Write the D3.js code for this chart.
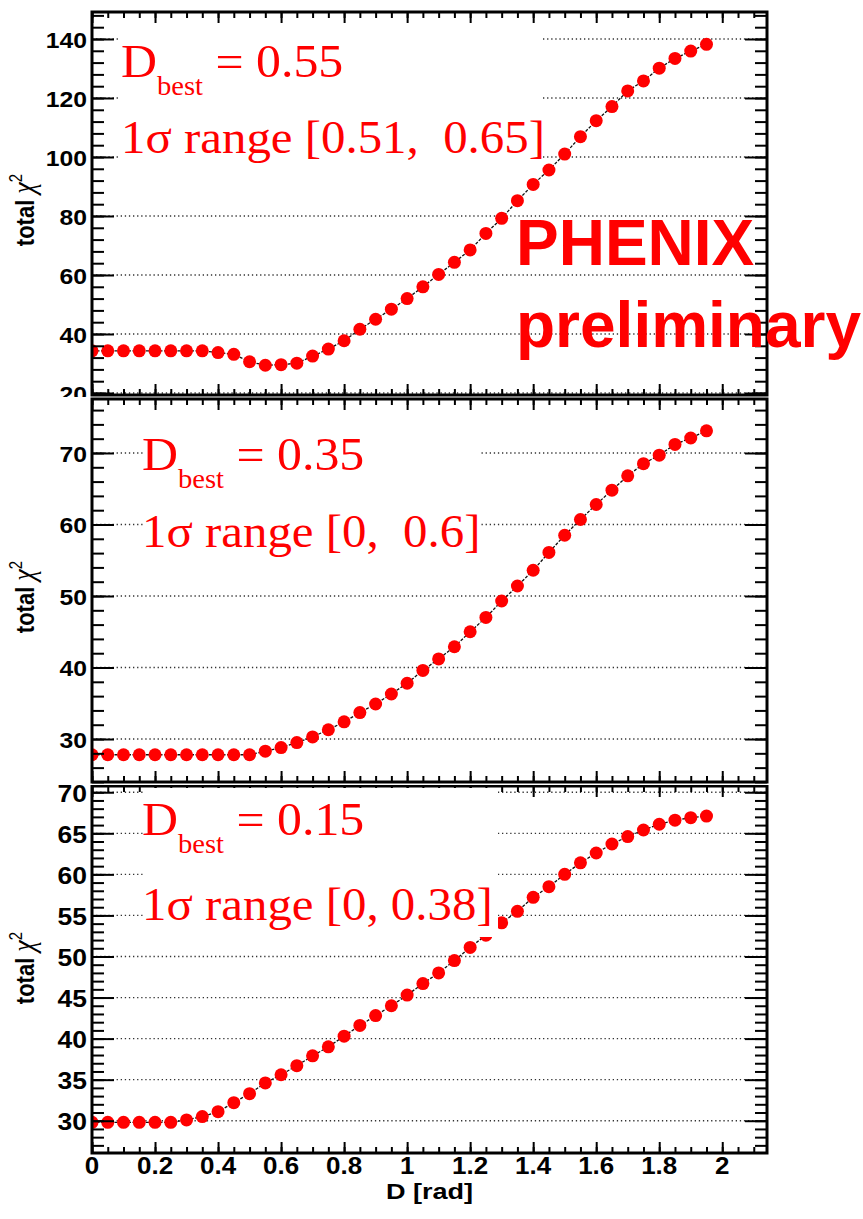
<!DOCTYPE html>
<html>
<head>
<meta charset="utf-8">
<script src="https://cdn.jsdelivr.net/npm/d3@7"></script>
<style>
  html, body { margin: 0; padding: 0; background: #fff; }
  svg { display: block; }
  .tick line { stroke: #000; stroke-width: 2; }
</style>
</head>
<body>
<svg id="chart" width="863" height="1219"></svg>
<script>
// Scan points in D [rad]
const dValues = [0, 0.05, 0.1, 0.15, 0.2, 0.25, 0.3, 0.35, 0.4, 0.45,
                 0.5, 0.55, 0.6, 0.65, 0.7, 0.75, 0.8, 0.85, 0.9, 0.95,
                 1.0, 1.05, 1.1, 1.15, 1.2, 1.25, 1.3, 1.35, 1.4, 1.45,
                 1.5, 1.55, 1.6, 1.65, 1.7, 1.75, 1.8, 1.85, 1.9, 1.95];

// total chi^2 for each scan point, one array per panel
const chi2Top = [34.3, 34.3, 34.3, 34.3, 34.3, 34.3, 34.3, 34.3, 33.7, 33.1,
                 30.6, 29.4, 29.6, 30.1, 32.5, 34.9, 37.7, 41.6, 45.0, 48.4,
                 52.0, 56.0, 60.2, 64.3, 68.5, 74.1, 79.2, 85.2, 90.7, 95.6,
                 101.0, 106.9, 112.3, 117.1, 122.4, 125.8, 130.1, 133.4, 135.9, 138.2];
const chi2Mid = [27.8, 27.8, 27.8, 27.8, 27.8, 27.8, 27.8, 27.8, 27.8, 27.8,
                 27.8, 28.3, 28.8, 29.5, 30.3, 31.3, 32.4, 33.7, 34.9, 36.3,
                 37.8, 39.6, 41.2, 42.9, 45.0, 47.0, 49.3, 51.4, 53.6, 56.1,
                 58.5, 60.7, 62.8, 64.8, 66.8, 68.5, 69.7, 71.2, 72.1, 73.1];
const chi2Bot = [29.8, 29.8, 29.8, 29.8, 29.8, 29.8, 30.1, 30.5, 31.1, 32.2,
                 33.3, 34.6, 35.6, 36.7, 37.9, 39.0, 40.3, 41.6, 42.8, 44.0,
                 45.3, 46.7, 48.0, 49.5, 51.1, 52.6, 54.1, 55.5, 57.2, 58.5,
                 60.0, 61.4, 62.6, 63.7, 64.6, 65.4, 66.1, 66.6, 66.9, 67.1];

// Axis tick labels
const xTickLabels = ["0", "0.2", "0.4", "0.6", "0.8", "1", "1.2", "1.4", "1.6", "1.8", "2"];
const yTicksTop = [20, 40, 60, 80, 100, 120, 140];
const yTicksMid = [30, 40, 50, 60, 70];
const yTicksBot = [30, 35, 40, 45, 50, 55, 60, 65, 70];

// Fit result annotations (no-break spaces keep the double gaps)
const bestValues = ["0.55", "0.35", "0.15"];
const rangeTexts = ["1σ range [0.51,\u00a0\u00a00.65]", "1σ range [0,\u00a0\u00a00.6]", "1σ range [0, 0.38]"];

const svg = d3.select("#chart");
svg.append("rect").attr("width", 863).attr("height", 1219).attr("fill", "#fff");

const X0 = 92, X1 = 767;
const x = d3.scaleLinear().domain([0, 2.142]).range([X0, X1]);
const xMajor = xTickLabels.map(Number);
const xMinor = d3.range(0, 2.14, 0.05);

const panels = [
  { values: chi2Top, majors: yTicksTop, minorStep: 4, domain: [19.32, 149.15],
    frame: [12, 395], pad: [0, 397], labelSize: 21.5, titleY: 210,
    box: [120, 28, 542, 175], textX: 121, line1: 77, line2: 153 },
  { values: chi2Mid, majors: yTicksMid, minorStep: 2, domain: [23.99, 77.55],
    frame: [399, 782], pad: [397, 784], labelSize: 21.5, titleY: 597,
    box: [143, 413, 481, 572], textX: 142, line1: 470, line2: 547 },
  { values: chi2Bot, majors: yTicksBot, minorStep: 1, domain: [26.07, 70.76],
    frame: [786, 1153], pad: [785, 1219], labelSize: 23, titleY: 968,
    box: [143, 788, 498, 937], textX: 142, line1: 835, line2: 920, showX: true }
];

const defs = svg.append("defs");

panels.forEach((p, i) => {
  const [fTop, fBot] = p.frame;
  const y = d3.scaleLinear().domain(p.domain).range([fBot, fTop]);

  defs.append("clipPath").attr("id", "pad" + i)
    .append("rect").attr("x", 0).attr("y", p.pad[0])
    .attr("width", 863).attr("height", p.pad[1] - p.pad[0]);
  defs.append("clipPath").attr("id", "frame" + i)
    .append("rect").attr("x", X0).attr("y", fTop)
    .attr("width", X1 - X0).attr("height", fBot - fTop);

  const g = svg.append("g").attr("clip-path", `url(#pad${i})`);
  const inner = g.append("g").attr("clip-path", `url(#frame${i})`);

  // dotted horizontal grid at the major ticks
  inner.selectAll("line.grid").data(p.majors).join("line")
    .attr("class", "grid")
    .attr("x1", X0).attr("x2", X1)
    .attr("y1", d => y(d)).attr("y2", d => y(d))
    .attr("stroke", "#333").attr("stroke-width", 1.3)
    .attr("stroke-dasharray", "1.3 2.8");

  // connecting line and markers
  const pts = dValues.map((d, k) => [d, p.values[k]]);
  inner.append("path").datum(pts)
    .attr("fill", "none").attr("stroke", "#111").attr("stroke-width", 1.3)
    .attr("stroke-dasharray", "3 1.5")
    .attr("d", d3.line().x(d => x(d[0])).y(d => y(d[1])));
  inner.selectAll("circle").data(pts).join("circle")
    .attr("cx", d => x(d[0])).attr("cy", d => y(d[1]))
    .attr("r", 6.5).attr("fill", "#ff0000");

  // ticks on all four sides, pointing inward
  const yMinor = d3.range(Math.ceil(p.domain[0] / p.minorStep) * p.minorStep, p.domain[1], p.minorStep);
  const addAxis = (axis, tx, ty) => {
    const a = g.append("g").attr("transform", `translate(${tx},${ty})`).call(axis);
    a.select(".domain").remove();
    a.selectAll("text").remove();
  };
  addAxis(d3.axisLeft(y).tickValues(yMinor).tickSize(-12), X0, 0);
  addAxis(d3.axisLeft(y).tickValues(p.majors).tickSize(-22), X0, 0);
  addAxis(d3.axisRight(y).tickValues(yMinor).tickSize(-12), X1, 0);
  addAxis(d3.axisRight(y).tickValues(p.majors).tickSize(-22), X1, 0);
  addAxis(d3.axisBottom(x).tickValues(xMinor).tickSize(-6), 0, fBot);
  addAxis(d3.axisBottom(x).tickValues(xMajor).tickSize(-11), 0, fBot);
  addAxis(d3.axisTop(x).tickValues(xMinor).tickSize(-6), 0, fTop);
  addAxis(d3.axisTop(x).tickValues(xMajor).tickSize(-11), 0, fTop);

  // white label box
  const [bx0, by0, bx1, by1] = p.box;
  g.append("rect").attr("x", bx0).attr("y", by0)
    .attr("width", bx1 - bx0).attr("height", by1 - by0).attr("fill", "#fff");

  // frame
  g.append("rect").attr("x", X0).attr("y", fTop)
    .attr("width", X1 - X0).attr("height", fBot - fTop)
    .attr("fill", "none").attr("stroke", "#000").attr("stroke-width", 3);

  // y tick labels
  g.selectAll("text.ylab").data(p.majors).join("text")
    .attr("class", "ylab")
    .attr("transform", d => `translate(87,${y(d) + 1.5}) scale(1.15,1)`)
    .attr("text-anchor", "end").attr("dominant-baseline", "central")
    .attr("font-family", "Liberation Sans, Arial, sans-serif")
    .attr("font-weight", "bold").attr("font-size", p.labelSize)
    .text(d => d);

  // y axis title
  const t = g.append("text")
    .attr("transform", `translate(34,${p.titleY}) scale(1.2,1) rotate(-90)`)
    .attr("text-anchor", "middle")
    .attr("font-family", "Liberation Sans, Arial, sans-serif")
    .attr("font-size", 22);
  t.append("tspan").attr("font-weight", "bold").text("total ");
  t.append("tspan").attr("font-family", "Liberation Serif, serif")
    .attr("font-style", "italic").attr("font-size", 26).text("χ");
  t.append("tspan").attr("font-size", 15).attr("dy", -10).text("2");

  // fit result text
  const lab = svg.append("g").attr("fill", "#ff0000")
    .attr("font-family", "Liberation Serif, Times New Roman, serif")
    .attr("font-size", 47);
  const l1 = lab.append("text")
    .attr("transform", `translate(${p.textX},${p.line1}) scale(1.06,1)`);
  l1.append("tspan").text("D");
  l1.append("tspan").attr("font-size", 27).attr("dy", 18).text("best");
  l1.append("tspan").attr("dy", -18).text("\u00a0= " + bestValues[i]);
  lab.append("text")
    .attr("transform", `translate(${p.textX},${p.line2}) scale(1.04,1)`)
    .text(rangeTexts[i]);

  // x axis labels and title on the lowest panel
  if (p.showX) {
    svg.selectAll("text.xlab").data(xTickLabels).join("text")
      .attr("class", "xlab")
      .attr("transform", d => `translate(${x(+d)},1174) scale(1.13,1)`)
      .attr("text-anchor", "middle")
      .attr("font-family", "Liberation Sans, Arial, sans-serif")
      .attr("font-weight", "bold").attr("font-size", 23)
      .text(d => d);
    svg.append("text")
      .attr("transform", `translate(${(X0 + X1) / 2},1199) scale(1.23,1)`)
      .attr("text-anchor", "middle")
      .attr("font-family", "Liberation Sans, Arial, sans-serif")
      .attr("font-weight", "bold").attr("font-size", 22)
      .text("D [rad]");
  }
});

// Preliminary stamp
const stamp = svg.append("g").attr("fill", "#ff0000")
  .attr("font-family", "Liberation Sans, Arial, sans-serif")
  .attr("font-weight", "bold").attr("font-size", 64);
stamp.append("text").attr("x", 516).attr("y", 265).text("PHENIX");
stamp.append("text").attr("x", 516).attr("y", 347).text("preliminary");
</script>
</body>
</html>
